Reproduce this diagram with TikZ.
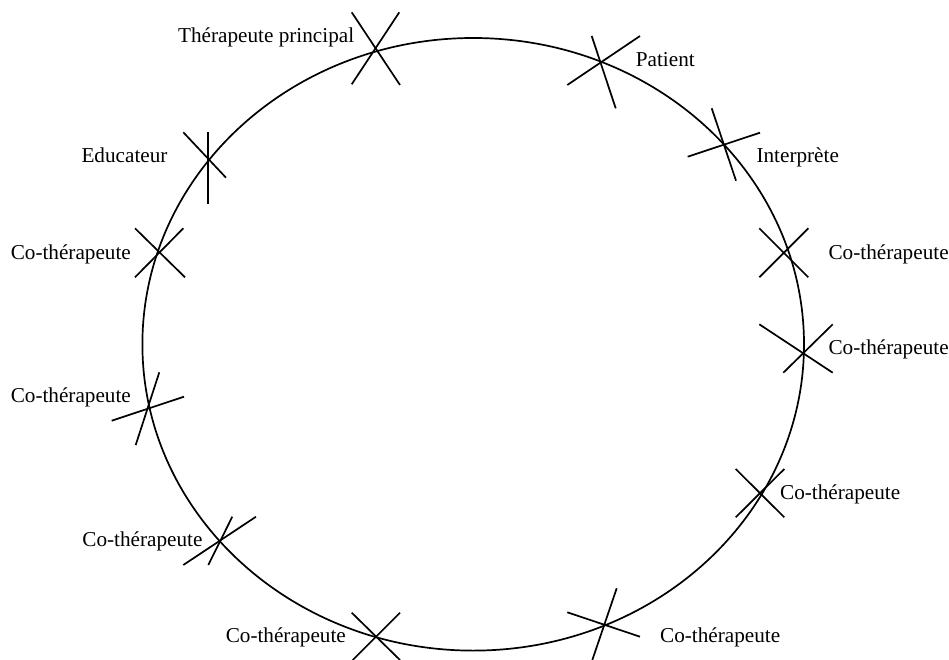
\documentclass[tikz,border=0pt]{standalone}
\usepackage{fontspec}
\setmainfont{Liberation Serif}

\begin{document}
\begin{tikzpicture}[x=1pt,y=-1pt,line width=1.7pt]
    \tikzstyle{lbl}=[inner sep=0pt,font=\fontsize{21.2}{25}\selectfont]
    \useasboundingbox (0,0) rectangle (949,660);

    \draw (473.2,344.3) ellipse [x radius=330.8pt, y radius=306.3pt];

    % crosses on the ring
    \foreach \ax/\ay/\bx/\by in {351.7/12.3/400/85, 399.3/12.3/351.7/84.3,
            207.7/132.3/207.7/204.3, 183.3/132.3/226/177.7,
            135/228.3/185/277.3, 183.3/228.3/135/277.3,
            591.7/36/615.7/108.3, 640/36/567.3/85,
            711.7/108.3/736/180.7, 760/132.7/687.7/156.7,
            759.3/228.3/808.3/277.3, 808.3/228.3/759.3/277.3,
            759.3/324.3/832.7/372.7, 832.7/324.3/783.3/372.7,
            735.7/469/784.3/517.3, 784.3/469/735.7/517.3,
            616.7/588.3/592.3/660, 567.3/612.3/640/636.7,
            351.7/612.7/400/660, 400/612.7/352.7/660,
            232.3/516.7/208.3/565, 256/516.7/183.3/565,
            159.3/372.3/135.7/445, 184/396.7/111.7/420.7}
        \draw (\ax,\ay) -- (\bx,\by);

    % labels
    \foreach \num/\x/\y/\side/\txt in {1/355/42.5/east/Thérapeute principal,
            2/168.3/163/east/Educateur,
            3/131.7/259/east/Co-thérapeute,
            4/635/67/west/Patient,
            5/755.7/162.5/west/Interprète,
            6/827.7/259/west/Co-thérapeute,
            7/827.7/354/west/Co-thérapeute,
            8/779.3/499/west/Co-thérapeute,
            9/659.3/642.5/west/Co-thérapeute,
            10/346.7/642.5/east/Co-thérapeute,
            11/203.3/546.5/east/Co-thérapeute,
            12/131.7/402.5/east/Co-thérapeute}
        \node[lbl,anchor=base \side] (L-\num) at (\x,\y) {\txt};
\end{tikzpicture}
\end{document}
